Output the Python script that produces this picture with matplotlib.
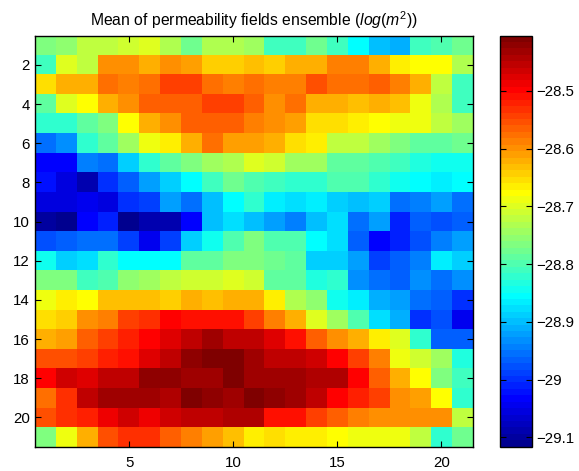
import numpy as np
import matplotlib
matplotlib.use('Agg')
import matplotlib.pyplot as plt
from matplotlib.colors import ListedColormap

plt.rcParams['font.family'] = ['Liberation Sans', 'DejaVu Sans']
plt.rcParams['mathtext.fontset'] = 'custom'
plt.rcParams['mathtext.rm'] = 'Liberation Sans'
plt.rcParams['mathtext.it'] = 'Liberation Sans:italic'

# ---- data (mean log-permeability, rows 1..21 top to bottom, columns 1..21) ----
row_01 = [-28.766, -28.755, -28.721, -28.721, -28.710, -28.699, -28.733, -28.777, -28.733, -28.733, -28.744, -28.810, -28.810, -28.777, -28.810, -28.855, -28.899, -28.910, -28.810, -28.799, -28.777]
row_02 = [-28.810, -28.699, -28.721, -28.599, -28.599, -28.622, -28.599, -28.610, -28.644, -28.644, -28.633, -28.644, -28.622, -28.622, -28.588, -28.588, -28.622, -28.666, -28.677, -28.677, -28.733]
row_03 = [-28.655, -28.622, -28.622, -28.577, -28.588, -28.577, -28.544, -28.544, -28.577, -28.588, -28.577, -28.588, -28.588, -28.555, -28.577, -28.577, -28.566, -28.588, -28.622, -28.721, -28.810]
row_04 = [-28.788, -28.699, -28.677, -28.622, -28.599, -28.566, -28.566, -28.566, -28.544, -28.544, -28.566, -28.599, -28.577, -28.622, -28.622, -28.633, -28.622, -28.633, -28.688, -28.733, -28.810]
row_05 = [-28.821, -28.821, -28.788, -28.766, -28.677, -28.622, -28.599, -28.566, -28.566, -28.566, -28.588, -28.599, -28.610, -28.655, -28.655, -28.666, -28.677, -28.688, -28.688, -28.721, -28.744]
row_06 = [-28.954, -28.932, -28.821, -28.788, -28.744, -28.688, -28.666, -28.622, -28.577, -28.610, -28.610, -28.622, -28.655, -28.666, -28.721, -28.721, -28.744, -28.766, -28.788, -28.788, -28.777]
row_07 = [-29.032, -29.032, -28.943, -28.954, -28.888, -28.821, -28.788, -28.766, -28.744, -28.733, -28.699, -28.710, -28.744, -28.744, -28.788, -28.788, -28.799, -28.810, -28.832, -28.843, -28.843]
row_08 = [-29.021, -29.054, -29.088, -28.999, -28.965, -28.921, -28.888, -28.855, -28.810, -28.777, -28.799, -28.810, -28.821, -28.821, -28.799, -28.799, -28.821, -28.843, -28.855, -28.866, -28.855]
row_09 = [-29.054, -29.054, -29.043, -29.054, -28.999, -28.988, -28.921, -28.954, -28.899, -28.855, -28.821, -28.866, -28.877, -28.866, -28.888, -28.899, -28.888, -28.954, -28.943, -28.921, -28.954]
row_10 = [-29.099, -29.116, -29.032, -29.010, -29.110, -29.088, -29.088, -29.032, -28.899, -28.877, -28.899, -28.921, -28.943, -28.899, -28.877, -28.954, -28.921, -29.010, -28.965, -28.977, -28.965]
row_11 = [-28.977, -28.965, -28.954, -28.954, -28.988, -29.043, -28.988, -28.888, -28.843, -28.799, -28.766, -28.799, -28.799, -28.855, -28.877, -28.965, -29.032, -29.010, -28.977, -28.943, -28.921]
row_12 = [-28.843, -28.888, -28.877, -28.821, -28.855, -28.855, -28.855, -28.788, -28.788, -28.766, -28.766, -28.777, -28.788, -28.888, -28.888, -28.921, -28.988, -28.965, -28.943, -28.866, -28.888]
row_13 = [-28.766, -28.766, -28.810, -28.799, -28.755, -28.744, -28.721, -28.710, -28.710, -28.699, -28.710, -28.788, -28.788, -28.832, -28.821, -28.932, -28.954, -28.965, -28.932, -28.954, -28.932]
row_14 = [-28.688, -28.666, -28.677, -28.633, -28.633, -28.633, -28.644, -28.622, -28.633, -28.622, -28.622, -28.666, -28.733, -28.755, -28.843, -28.866, -28.910, -28.921, -28.954, -28.965, -28.999]
row_15 = [-28.655, -28.644, -28.599, -28.588, -28.544, -28.533, -28.499, -28.511, -28.511, -28.511, -28.544, -28.588, -28.622, -28.699, -28.744, -28.799, -28.877, -28.910, -28.999, -28.977, -29.043]
row_16 = [-28.622, -28.610, -28.566, -28.544, -28.522, -28.499, -28.477, -28.455, -28.433, -28.455, -28.455, -28.477, -28.511, -28.566, -28.599, -28.622, -28.666, -28.699, -28.821, -28.965, -28.965]
row_17 = [-28.555, -28.555, -28.544, -28.522, -28.511, -28.477, -28.455, -28.422, -28.404, -28.410, -28.433, -28.455, -28.455, -28.466, -28.499, -28.544, -28.588, -28.688, -28.710, -28.744, -28.832]
row_18 = [-28.499, -28.466, -28.477, -28.455, -28.455, -28.422, -28.422, -28.433, -28.433, -28.410, -28.433, -28.433, -28.433, -28.444, -28.444, -28.499, -28.566, -28.622, -28.677, -28.766, -28.810]
row_19 = [-28.577, -28.533, -28.455, -28.433, -28.433, -28.433, -28.444, -28.410, -28.422, -28.433, -28.410, -28.422, -28.433, -28.455, -28.499, -28.522, -28.544, -28.599, -28.610, -28.677, -28.821]
row_20 = [-28.555, -28.533, -28.522, -28.488, -28.466, -28.488, -28.466, -28.455, -28.455, -28.444, -28.444, -28.511, -28.511, -28.544, -28.566, -28.588, -28.599, -28.599, -28.599, -28.599, -28.721]
row_21 = [-28.766, -28.688, -28.622, -28.555, -28.533, -28.533, -28.566, -28.588, -28.610, -28.633, -28.666, -28.655, -28.666, -28.666, -28.677, -28.688, -28.688, -28.688, -28.721, -28.821, -28.777]

x_ticks = [5, 10, 15, 20]
y_ticks = [2, 4, 6, 8, 10, 12, 14, 16, 18, 20]
cbar_ticks = [-29.1, -29.0, -28.9, -28.8, -28.7, -28.6, -28.5]
cbar_labels = ['\u221229.1', '\u221229', '\u221228.9', '\u221228.8', '\u221228.7', '\u221228.6', '\u221228.5']
title = r'Mean of permeability fields ensemble ($\mathit{log(m^2)}$)'

Z = np.array([row_01, row_02, row_03, row_04, row_05, row_06, row_07, row_08, row_09, row_10,
              row_11, row_12, row_13, row_14, row_15, row_16, row_17, row_18, row_19, row_20, row_21])
nrow, ncol = Z.shape


def matlab_jet(m=64):
    n = int(np.ceil(m / 4))
    u = np.concatenate([np.arange(1, n + 1) / n, np.ones(n - 1), np.arange(n, 0, -1) / n])
    g = int(np.ceil(n / 2)) - (1 if m % 4 == 1 else 0) + np.arange(1, len(u) + 1)
    r = g + n
    b = g - n
    J = np.zeros((m, 3))
    for idx, ch in ((r, 0), (g, 1), (b, 2)):
        mask = (idx >= 1) & (idx <= m)
        J[idx[mask] - 1, ch] = u[mask]
    return J


cmap = ListedColormap(matlab_jet(64))

fig = plt.figure(figsize=(5.79, 4.71), dpi=100)
ax = fig.add_axes([0.0613, 0.0516, 0.7551, 0.8730])
cax = fig.add_axes([0.8636, 0.0516, 0.0558, 0.8730])

im = ax.imshow(Z, cmap=cmap, interpolation='nearest', aspect='auto',
               extent=(0.5, ncol + 0.5, nrow + 0.5, 0.5))
ax.set_xticks(x_ticks)
ax.set_yticks(y_ticks)
ax.tick_params(axis='both', direction='in', top=True, right=True, length=4, width=0.8,
               labelsize=10.8, colors='black')
ax.tick_params(axis='x', pad=6.5)
ax.tick_params(axis='y', pad=4)
for s in ax.spines.values():
    s.set_linewidth(1.0)
    s.set_color('black')
ax.set_title(title, fontsize=11.3, pad=6.5)

cb = fig.colorbar(im, cax=cax, ticks=cbar_ticks)
cb.ax.set_yticklabels(cbar_labels)
cax.tick_params(direction='in', left=True, right=True, length=4, width=0.8,
                labelsize=10.8, pad=3)
cb.outline.set_linewidth(1.0)
cb.outline.set_edgecolor('black')

fig.savefig('out.png', dpi=100)
